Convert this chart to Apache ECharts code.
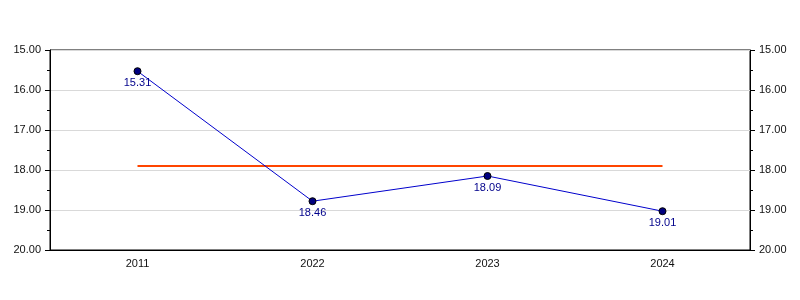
<!DOCTYPE html>
<html><head><meta charset="utf-8">
<script src="https://cdn.jsdelivr.net/npm/echarts@6/dist/echarts.min.js"></script>
<style>html,body{margin:0;padding:0;background:#fff}#c{width:800px;height:300px}</style>
</head><body><div id="c"></div>
<script>
const categories = ['2011', '2022', '2023', '2024'];
const values = [15.53, 18.78, 18.15, 19.03];
const pointLabels = ['15.31', '18.46', '18.09', '19.01'];
const averageValue = 17.9;
const averageLine = categories.map(() => averageValue);

const chart = echarts.init(document.getElementById('c'), null, {renderer: 'canvas'});
const font = 'Liberation Sans, Arial, sans-serif';
const yAxisCommon = {
  type: 'value', inverse: true, min: 15, max: 20, interval: 1,
  axisLine: {show: true, lineStyle: {color: '#000', width: 1}},
  axisTick: {show: true, length: 5, lineStyle: {color: '#000'}},
  minorTick: {show: true, splitNumber: 2, length: 3, lineStyle: {color: '#000'}},
  axisLabel: {color: '#111', fontFamily: font, fontSize: 11, formatter: v => v.toFixed(2), margin: 9}
};
chart.setOption({
  animation: false,
  grid: {left: 50, right: 50, top: 50, bottom: 50, show: true, borderColor: '#000', borderWidth: 1},
  xAxis: {
    type: 'category', data: categories, boundaryGap: true,
    axisLine: {lineStyle: {color: '#000'}},
    axisTick: {alignWithLabel: true, length: 4, lineStyle: {color: '#000'}},
    axisLabel: {color: '#111', fontFamily: font, fontSize: 11, margin: 8},
    splitLine: {show: false}
  },
  yAxis: [
    Object.assign({}, yAxisCommon, {position: 'left', splitLine: {show: true, lineStyle: {color: '#d9d9d9', width: 1}}}),
    Object.assign({}, yAxisCommon, {position: 'right', splitLine: {show: false}})
  ],
  series: [
    {
      type: 'line', data: averageLine, symbol: 'none', z: 1,
      lineStyle: {color: '#ff4500', width: 2}
    },
    {
      type: 'line', data: values, z: 3,
      symbol: 'circle', symbolSize: 7,
      itemStyle: {color: '#000080', borderColor: '#000', borderWidth: 1},
      lineStyle: {color: '#0000cc', width: 1},
      label: {
        show: true, position: 'bottom', distance: 2,
        color: '#00008b', fontFamily: font, fontSize: 11,
        formatter: p => pointLabels[p.dataIndex]
      }
    }
  ]
});
</script></body></html>
